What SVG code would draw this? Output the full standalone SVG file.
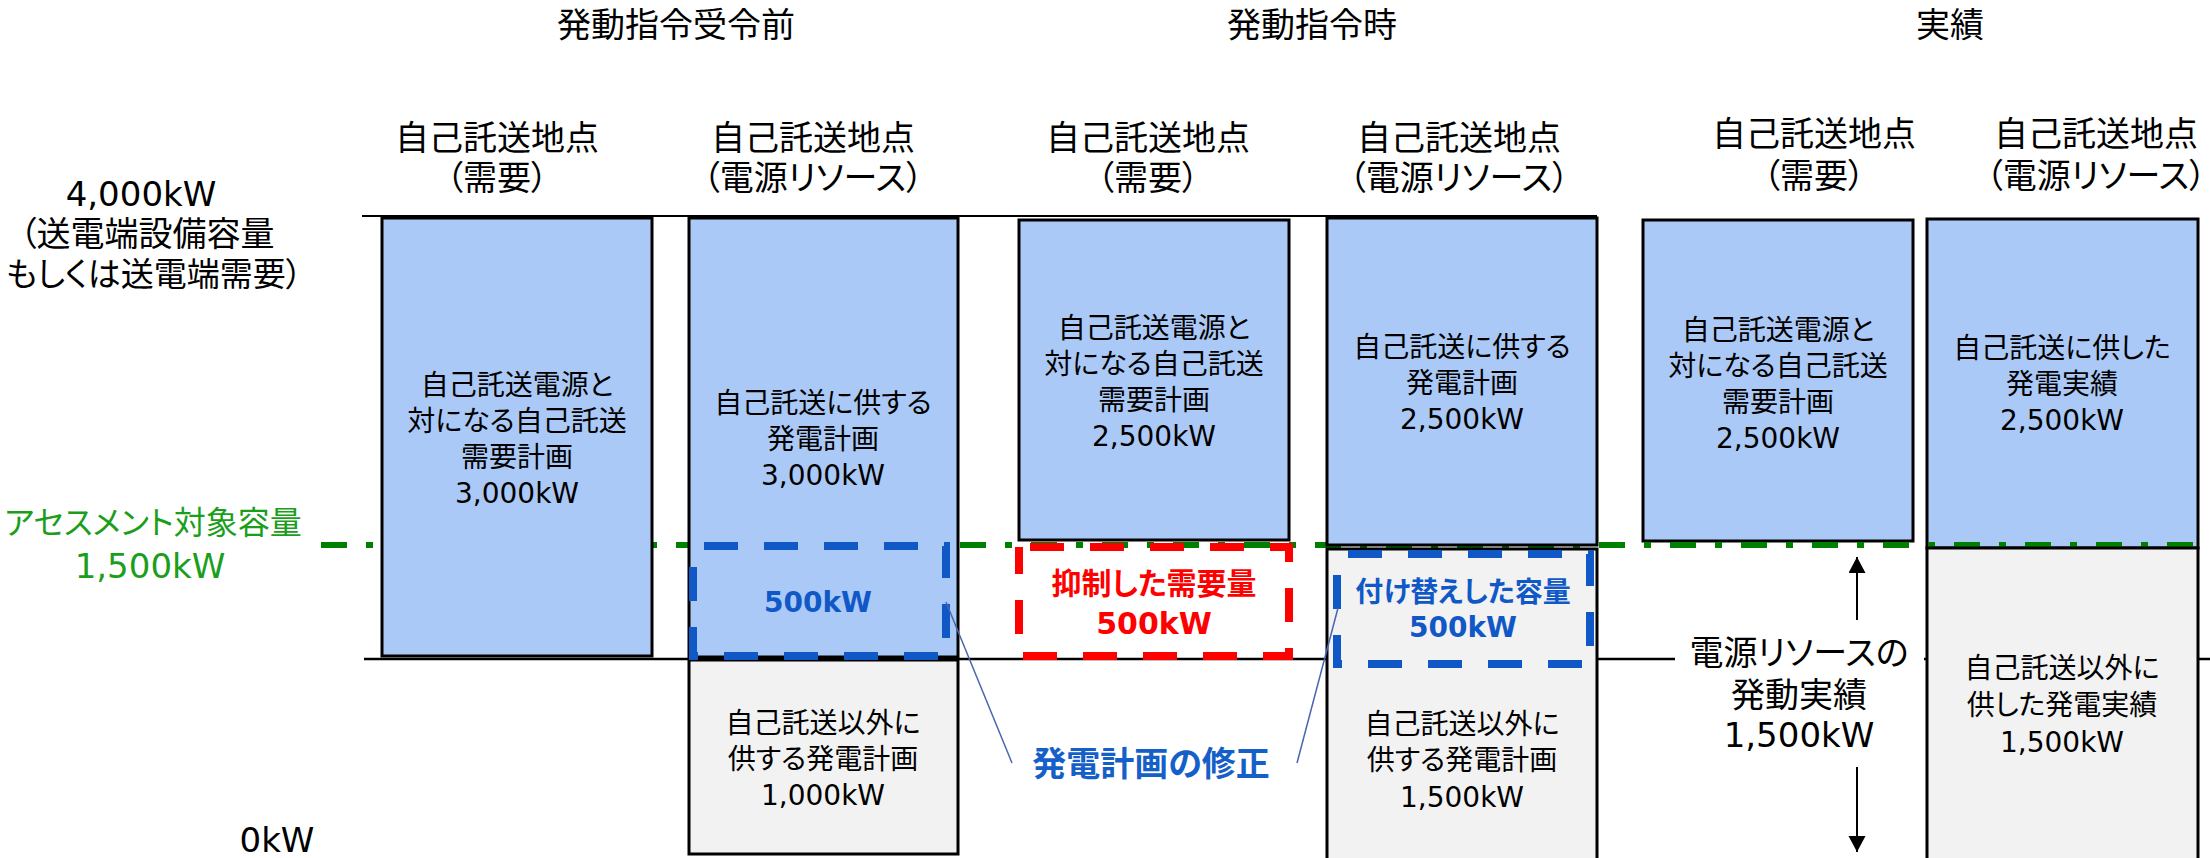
<svg xmlns="http://www.w3.org/2000/svg" width="2210" height="858" viewBox="0 0 2210 858">
<defs>
<style>
text{font-family:"DejaVu Sans","Noto Sans CJK JP",sans-serif;font-feature-settings:"palt" 1;text-anchor:middle;fill:#000}
.t34{font-size:34px}
.t28{font-size:28px}
.b{font-weight:bold}
.blue{fill:#abc9f6;stroke:#000;stroke-width:3}
.grey{fill:#f2f2f2;stroke:#000;stroke-width:3}
.dash{fill:none;stroke-width:8;stroke-dasharray:34 26;stroke-dashoffset:49}
.bl{stroke:#1158c7}
.rd{stroke:#ff0000}
.callout{stroke:#4a65b0;stroke-width:1.5;fill:none}
</style>
<marker id="ah" markerUnits="userSpaceOnUse" markerWidth="18" markerHeight="18" refX="16" refY="8.5" orient="auto">
<path d="M0,0 L16,8.5 L0,17 Z" fill="#000"/>
</marker>
</defs>

<g id="connectors">
<line x1="362" y1="216" x2="1597" y2="216" stroke="#000" stroke-width="2"/>
<line x1="364" y1="659" x2="1675" y2="659" stroke="#000" stroke-width="2.5"/>
<line x1="1924" y1="659" x2="2210" y2="659" stroke="#000" stroke-width="2.5"/>
</g>

<g id="node-actual-demand">
<rect class="blue" x="1643" y="220" width="270" height="321"/>
<text class="t28" x="1778" y="340">自己託送電源と</text>
<text class="t28" x="1778" y="376">対になる自己託送</text>
<text class="t28" x="1778" y="412">需要計画</text>
<text class="t28" x="1778" y="448">2,500kW</text>
</g>
<g id="node-actual-resource-upper">
<rect class="blue" x="1927" y="219" width="271" height="329"/>
<text class="t28" x="2062" y="358">自己託送に供した</text>
<text class="t28" x="2062" y="394">発電実績</text>
<text class="t28" x="2062" y="430">2,500kW</text>
</g>

<g id="assessment-line">
<line x1="321" y1="545" x2="2210" y2="545" stroke="#008000" stroke-width="6" stroke-dasharray="26 19 7 19"/>
</g>

<g id="node-actual-resource-lower">
<rect class="grey" x="1927" y="548" width="271" height="330"/>
<text class="t28" x="2062" y="678">自己託送以外に</text>
<text class="t28" x="2062" y="715">供した発電実績</text>
<text class="t28" x="2062" y="752">1,500kW</text>
</g>

<g id="node-pre-demand">
<rect class="blue" x="382" y="218" width="270" height="438"/>
<text class="t28" x="517" y="395">自己託送電源と</text>
<text class="t28" x="517" y="431">対になる自己託送</text>
<text class="t28" x="517" y="467">需要計画</text>
<text class="t28" x="517" y="503">3,000kW</text>
</g>
<g id="node-pre-resource">
<rect class="blue" x="689" y="218" width="269" height="439"/>
<text class="t28" x="823" y="413">自己託送に供する</text>
<text class="t28" x="823" y="449">発電計画</text>
<text class="t28" x="823" y="485">3,000kW</text>
<rect class="grey" x="689" y="660" width="269" height="194"/>
<text class="t28" x="823" y="733">自己託送以外に</text>
<text class="t28" x="823" y="769">供する発電計画</text>
<text class="t28" x="823" y="805">1,000kW</text>
</g>
<g id="node-cmd-demand">
<rect class="blue" x="1019" y="220" width="270" height="320"/>
<text class="t28" x="1154" y="338">自己託送電源と</text>
<text class="t28" x="1154" y="374">対になる自己託送</text>
<text class="t28" x="1154" y="410">需要計画</text>
<text class="t28" x="1154" y="446">2,500kW</text>
</g>
<g id="node-cmd-resource">
<rect class="blue" x="1327" y="218" width="270" height="327"/>
<text class="t28" x="1462" y="357">自己託送に供する</text>
<text class="t28" x="1462" y="393">発電計画</text>
<text class="t28" x="1462" y="429">2,500kW</text>
<rect class="grey" x="1327" y="549" width="270" height="330"/>
<text class="t28" x="1462" y="734">自己託送以外に</text>
<text class="t28" x="1462" y="770">供する発電計画</text>
<text class="t28" x="1462" y="807">1,500kW</text>
</g>

<g id="node-dashed-pre">
<rect class="dash bl" x="693" y="546" width="253" height="110"/>
<text class="t28 b" x="818" y="612" style="fill:#1158c7">500kW</text>
</g>
<g id="node-dashed-curtailed">
<rect class="dash rd" x="1019" y="547" width="270" height="109"/>
<text class="b" x="1154" y="594" style="font-size:30px;fill:#ff0000">抑制した需要量</text>
<text class="b" x="1154" y="634" style="font-size:30px;fill:#ff0000">500kW</text>
</g>
<g id="node-dashed-reassigned">
<rect class="dash bl" x="1337" y="554" width="253" height="110"/>
<text class="t28 b" x="1463" y="602" style="fill:#1158c7">付け替えした容量</text>
<text class="t28 b" x="1463" y="637" style="fill:#1158c7">500kW</text>
</g>

<g id="connectors-callout">
<line class="callout" x1="946" y1="602" x2="1012" y2="763"/>
<line class="callout" x1="1297" y1="763" x2="1338" y2="608"/>
<line x1="1857" y1="620" x2="1857" y2="557" stroke="#000" stroke-width="2" marker-end="url(#ah)"/>
<line x1="1857" y1="767" x2="1857" y2="852" stroke="#000" stroke-width="2" marker-end="url(#ah)"/>
</g>

<g id="label-revision">
<text class="t34 b" x="1151" y="776" style="fill:#1560c8">発電計画の修正</text>
</g>
<g id="label-actual-dispatch">
<text class="t34" x="1799" y="665">電源リソースの</text>
<text class="t34" x="1799" y="707">発動実績</text>
<text class="t34" x="1799" y="747">1,500kW</text>
</g>

<g id="titles">
<text class="t34" x="676" y="37">発動指令受令前</text>
<text class="t34" x="1312" y="37">発動指令時</text>
<text class="t34" x="1950" y="37">実績</text>
</g>
<g id="headers">
<text class="t34" x="497" y="150">自己託送地点</text>
<text class="t34" x="497" y="190">（需要）</text>
<text class="t34" x="813" y="150">自己託送地点</text>
<text class="t34" x="813" y="190">（電源リソース）</text>
<text class="t34" x="1148" y="150">自己託送地点</text>
<text class="t34" x="1148" y="190">（需要）</text>
<text class="t34" x="1459" y="150">自己託送地点</text>
<text class="t34" x="1459" y="190">（電源リソース）</text>
<text class="t34" x="1814" y="146">自己託送地点</text>
<text class="t34" x="1814" y="188">（需要）</text>
<text class="t34" x="2096" y="146">自己託送地点</text>
<text class="t34" x="2096" y="188">（電源リソース）</text>
</g>
<g id="axis-labels">
<text class="t34" x="141" y="206">4,000kW</text>
<text class="t34" x="147" y="246">（送電端設備容量</text>
<text x="154" y="286" style="font-size:33px">もしくは送電端需要）</text>
<text x="153" y="534" style="font-size:32px;fill:#1b9e1b">アセスメント対象容量</text>
<text class="t34" x="150" y="578" style="fill:#1b9e1b">1,500kW</text>
<text class="t34" x="277" y="852">0kW</text>
</g>
</svg>
